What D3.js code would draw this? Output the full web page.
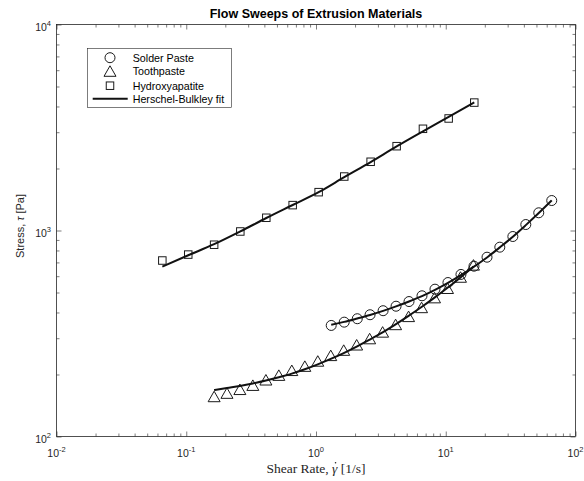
<!DOCTYPE html>
<html><head><meta charset="utf-8">
<script src="https://cdn.jsdelivr.net/npm/d3@7/dist/d3.min.js"></script>
<style>body{margin:0;background:#fff}svg{display:block}</style>
</head><body>
<svg id="c" width="584" height="481"></svg>
<script>
// ---- data ----
const solderX   = [1.31, 1.65, 2.08, 2.61, 3.29, 4.14, 5.21, 6.56, 8.26, 10.4, 13.1, 16.5, 20.8, 26.1, 32.9, 41.4, 52.1, 65.6];
const solderY   = [346, 359, 373, 390, 408, 429, 452, 482, 519, 559, 612, 671, 742, 830, 935, 1069, 1219, 1398];
const solderFit = [349, 360, 374, 389, 407, 428, 452, 480, 515, 557, 607, 668, 740, 828, 933, 1062, 1215, 1400];

const toothX   = [0.164, 0.206, 0.259, 0.326, 0.411, 0.517, 0.651, 0.820, 1.032, 1.299, 1.635, 2.058, 2.591, 3.262, 4.107, 5.170, 6.509, 8.194, 10.32, 12.99, 16.35];
const toothY   = [156, 162, 169, 177, 188, 198, 209, 219, 232, 247, 262, 278, 298, 321, 349, 382, 422, 471, 523, 593, 679];
const toothFit = [168, 172, 176, 181, 187, 194, 202, 212, 224, 238, 254, 273, 295, 320, 350, 385, 425, 472, 527, 592, 668];

const hydroX   = [0.0654, 0.1036, 0.164, 0.261, 0.414, 0.661, 1.048, 1.651, 2.637, 4.183, 6.673, 10.53, 16.59];
const hydroY   = [715, 764, 853, 989, 1153, 1328, 1535, 1828, 2156, 2566, 3117, 3498, 4178];
const hydroFit = [668, 758, 858, 990, 1150, 1330, 1535, 1815, 2150, 2560, 3030, 3560, 4190];

const xMajor = [0.01, 0.1, 1, 10, 100];
const xExp   = ["-2", "-1", "0", "1", "2"];
const yMajor = [100, 1000, 10000];
const yExp   = ["2", "3", "4"];

const legendNames = ["Solder Paste", "Toothpaste", "Hydroxyapatite", "Herschel-Bulkley fit"];
const titleText = "Flow Sweeps of Extrusion Materials";

// ---- drawing ----
const svg = d3.select("#c");
const L = 56.5, R = 575.5, T = 24.5, B = 436.5;
const x = d3.scaleLog().domain([0.01, 100]).range([L, R]);
const y = d3.scaleLog().domain([100, 10000]).range([B, T]);
const ink = "#262626";
const sans = "'Liberation Sans', Arial, Helvetica, sans-serif";
const serif = "'Liberation Serif', 'DejaVu Serif', serif";

svg.append("rect").attr("width", 584).attr("height", 481).attr("fill", "#fff");

// ticks
const xAll = x.ticks();
const yAll = y.ticks();
const isMajor = v => Math.abs(Math.log10(v) - Math.round(Math.log10(v))) < 1e-9;
const xMin = xAll.filter(v => !isMajor(v));
const yMin = yAll.filter(v => !isMajor(v));

function tickGroup(axisFn, scale, vals, size, transform) {
  const g = svg.append("g").attr("transform", transform)
    .call(axisFn(scale).tickValues(vals).tickSizeInner(size).tickSizeOuter(0).tickFormat(""));
  g.select(".domain").remove();
  g.selectAll("line").attr("stroke", ink).attr("stroke-width", 0.6);
  return g;
}
tickGroup(d3.axisBottom, x, xMajor, -5, `translate(0,${B})`);
tickGroup(d3.axisBottom, x, xMin, -3, `translate(0,${B})`);
tickGroup(d3.axisTop, x, xMajor, -5, `translate(0,${T})`);
tickGroup(d3.axisTop, x, xMin, -3, `translate(0,${T})`);
tickGroup(d3.axisLeft, y, yMajor, -5, `translate(${L},0)`);
tickGroup(d3.axisLeft, y, yMin, -3, `translate(${L},0)`);
tickGroup(d3.axisRight, y, yMajor, -5, `translate(${R},0)`);
tickGroup(d3.axisRight, y, yMin, -3, `translate(${R},0)`);

svg.append("rect").attr("x", L).attr("y", T).attr("width", R - L).attr("height", B - T)
  .attr("fill", "none").attr("stroke", ink).attr("stroke-width", 0.8);

// tick labels
const xl = svg.append("g").attr("font-family", sans).attr("fill", ink);
xMajor.forEach((v, i) => {
  const t = xl.append("text").attr("x", x(v)).attr("y", 456.7).attr("text-anchor", "middle").attr("font-size", 10.5);
  t.append("tspan").text("10");
  t.append("tspan").attr("dy", -5).attr("font-size", 7.5).text(xExp[i]);
});
yMajor.forEach((v, i) => {
  const t = xl.append("text").attr("x", 51).attr("y", y(v) + 6.3).attr("text-anchor", "end").attr("font-size", 10.5);
  t.append("tspan").text("10");
  t.append("tspan").attr("dy", -5).attr("font-size", 7.5).text(yExp[i]);
});

// title & axis labels
svg.append("text").attr("x", 316).attr("y", 18).attr("text-anchor", "middle")
  .attr("font-family", sans).attr("font-weight", "bold").attr("font-size", 12.5).attr("fill", "#000").text(titleText);

const xlab = svg.append("text").attr("x", 316).attr("y", 473).attr("text-anchor", "middle")
  .attr("font-family", serif).attr("font-size", 13.5).attr("fill", ink);
xlab.append("tspan").text("Shear Rate, ");
xlab.append("tspan").attr("font-style", "italic").text("\u03B3");
xlab.append("tspan").text(" [1/s]");
// dot accent over gamma
{
  const node = xlab.node();
  const gi = "Shear Rate, ".length;
  const p0 = node.getStartPositionOfChar(gi);
  const p1 = node.getEndPositionOfChar(gi);
  svg.append("circle").attr("cx", (p0.x + p1.x) / 2 + 0.8).attr("cy", 473 - 10.2)
    .attr("r", 0.8).attr("fill", ink);
}

const ylab = svg.append("text").attr("transform", "translate(24,226) rotate(-90)").attr("text-anchor", "middle")
  .attr("font-family", sans).attr("font-size", 11).attr("fill", ink);
ylab.append("tspan").text("Stress, ");
ylab.append("tspan").attr("font-style", "italic").text("\u03C4");
ylab.append("tspan").text(" [Pa]");

// markers
const plot = svg.append("g");
const mk = "#1a1a1a";
const triPath = "M0,-5.5L6,5L-6,5Z";
function zip(xs, ys) { return xs.map((v, i) => [v, ys[i]]); }

plot.selectAll(".sq").data(zip(hydroX, hydroY)).join("rect")
  .attr("x", d => x(d[0]) - 3.75).attr("y", d => y(d[1]) - 3.75)
  .attr("width", 7.5).attr("height", 7.5)
  .attr("fill", "none").attr("stroke", mk).attr("stroke-width", 1);

plot.selectAll(".tri").data(zip(toothX, toothY)).join("path")
  .attr("d", triPath).attr("transform", d => `translate(${x(d[0])},${y(d[1])})`)
  .attr("fill", "none").attr("stroke", mk).attr("stroke-width", 1);

plot.selectAll(".cir").data(zip(solderX, solderY)).join("circle")
  .attr("cx", d => x(d[0])).attr("cy", d => y(d[1])).attr("r", 5)
  .attr("fill", "none").attr("stroke", mk).attr("stroke-width", 1);

// fit lines
const line = d3.line().x(d => x(d[0])).y(d => y(d[1])).curve(d3.curveMonotoneX);
[[solderX, solderFit], [toothX, toothFit], [hydroX, hydroFit]].forEach(([xs, ys]) => {
  plot.append("path").datum(zip(xs, ys)).attr("d", line)
    .attr("fill", "none").attr("stroke", "#111").attr("stroke-width", 2);
});

// legend
const lg = svg.append("g");
lg.append("rect").attr("x", 87.5).attr("y", 48.5).attr("width", 144).attr("height", 59)
  .attr("fill", "#fff").attr("stroke", ink).attr("stroke-width", 0.6);
const ly = [57.7, 71.3, 85.7, 98.7];
lg.append("circle").attr("cx", 110).attr("cy", ly[0]).attr("r", 5).attr("fill", "none").attr("stroke", mk);
lg.append("path").attr("d", triPath).attr("transform", `translate(110,${ly[1]})`).attr("fill", "none").attr("stroke", mk);
lg.append("rect").attr("x", 106.25).attr("y", ly[2] - 3.75).attr("width", 7.5).attr("height", 7.5).attr("fill", "none").attr("stroke", mk);
lg.append("line").attr("x1", 92.7).attr("x2", 127.7).attr("y1", ly[3]).attr("y2", ly[3]).attr("stroke", "#111").attr("stroke-width", 2);
legendNames.forEach((n, i) => {
  lg.append("text").attr("x", 132.7).attr("y", ly[i] + 3.8).attr("font-family", sans)
    .attr("font-size", 10.7).attr("fill", "#000").text(n);
});
</script>
</body></html>
